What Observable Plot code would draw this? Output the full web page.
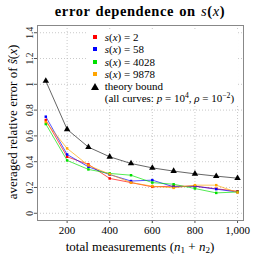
<!DOCTYPE html>
<html><head><meta charset="utf-8">
<script src="https://cdn.jsdelivr.net/npm/d3@7"></script>
<script src="https://cdn.jsdelivr.net/npm/@observablehq/plot@0.6"></script>
<style>
body{margin:0;background:#fff;}
#wrap{position:relative;width:258px;height:258px;font-family:"Liberation Serif",serif;color:#000;}
.abs{position:absolute;white-space:nowrap;}
#legend{position:absolute;left:86px;top:30px;background:#fff;font-size:11px;line-height:12.3px;padding:1px 4px 1px 2px;}
#legend .row{display:flex;align-items:center;height:12.3px;white-space:pre;}
#legend .sym{width:14px;display:inline-flex;justify-content:center;}
sub{font-size:70%;vertical-align:-2px;line-height:0;}
sup{font-size:70%;vertical-align:4px;line-height:0;}
</style></head>
<body><div id="wrap"></div>
<script>
const totals = [100, 200, 300, 400, 500, 600, 700, 800, 900, 1000];
const s2    = [0.723, 0.438, 0.379, 0.270, 0.238, 0.205, 0.210, 0.210, 0.190, 0.171];
const s58   = [0.749, 0.456, 0.360, 0.300, 0.250, 0.257, 0.205, 0.210, 0.187, 0.165];
const s4028 = [0.692, 0.410, 0.340, 0.309, 0.295, 0.238, 0.225, 0.192, 0.158, 0.165];
const s9878 = [0.708, 0.503, 0.371, 0.303, 0.238, 0.210, 0.197, 0.218, 0.218, 0.161];
const theory = [1.026, 0.651, 0.513, 0.438, 0.386, 0.352, 0.327, 0.306, 0.288, 0.272];
const seriesNames = ["2", "58", "4028", "9878"];
const seriesColors = ["#ff0000", "#0000ff", "#00e000", "#ffa500"];
const xTicks = [200, 400, 600, 800, 1000];
const yTicks = [0, 0.2, 0.4, 0.6, 0.8, 1, 1.2, 1.4];

const seriesVals = [s2, s58, s4028, s9878];
const rows = [];
seriesVals.forEach((vals, k) => vals.forEach((v, i) => rows.push({n: totals[i], v, s: seriesNames[k]})));
const th = totals.map((n, i) => ({n, v: theory[i]}));

const plot = Plot.plot({
  width: 258, height: 258,
  marginLeft: 37, marginRight: 15, marginTop: 25, marginBottom: 38,
  style: {fontFamily: "Liberation Serif, serif", background: "white", color: "black"},
  x: {domain: [61, 1028], label: null},
  y: {domain: [-0.056, 1.456], label: null},
  color: {domain: seriesNames, range: seriesColors},
  marks: [
    Plot.gridX(xTicks, {stroke: "#bbb", strokeOpacity: 1, strokeDasharray: "1,2", strokeWidth: 0.8}),
    Plot.gridY(yTicks, {stroke: "#bbb", strokeOpacity: 1, strokeDasharray: "1,2", strokeWidth: 0.8}),
    Plot.line(th, {x: "n", y: "v", stroke: "#555", strokeWidth: 0.9}),
    Plot.dot(th, {x: "n", y: "v", symbol: "triangle", r: 2.4, fill: "black", stroke: "none"}),
    Plot.line(rows, {x: "n", y: "v", z: "s", stroke: "s", strokeWidth: 0.9, strokeOpacity: 0.75}),
    Plot.dot(rows, {x: "n", y: "v", fill: "s", r: 1.4, stroke: "none", symbol: "square"}),
    Plot.axisX(xTicks, {tickSize: 3, tickPadding: 2.5, fontSize: 11, tickFormat: d => d, stroke: "#555", label: null}),
    Plot.axisY(yTicks, {tickSize: 3, tickFormat: () => "", stroke: "#555", label: null}),
    Plot.text(yTicks, {y: d => d, frameAnchor: "left", dx: -5, rotate: -90, lineAnchor: "bottom", textAnchor: "middle", fontSize: 9.5, text: d => String(d), fill: "#222"}),
    Plot.frame({stroke: "#888", strokeWidth: 1})
  ]
});
const wrap = document.getElementById("wrap");
wrap.appendChild(plot);

const html = `
<div class="abs" style="left:37px;width:206px;top:3px;text-align:center;font-size:14.5px;font-weight:bold;letter-spacing:0.6px;word-spacing:1px;">error dependence on <i style="font-weight:normal">s</i>(<i style="font-weight:normal">x</i>)</div>
<div class="abs" style="left:37px;width:206px;top:239px;text-align:center;font-size:13px;">total measurements (<i>n</i><sub>1</sub> + <i>n</i><sub>2</sub>)</div>
<div class="abs" style="left:13px;top:122px;transform:translate(-50%,-50%) rotate(-90deg);font-size:13px;">averaged relative error of <i>ŝ</i>(<i>x</i>)</div>
<div id="legend"></div>`;
wrap.insertAdjacentHTML("beforeend", html);
const leg = document.getElementById("legend");
seriesNames.forEach((nm, k) => {
  leg.insertAdjacentHTML("beforeend", `<div class="row"><span class="sym"><svg width="4" height="4"><rect width="4" height="4" fill="${seriesColors[k]}"/></svg></span><span> <i>s</i>(<i>x</i>) = ${nm}</span></div>`);
});
leg.insertAdjacentHTML("beforeend", `<div class="row"><span class="sym"><svg width="8" height="7"><polygon points="4,0 8,7 0,7" fill="black"/></svg></span><span> theory bound</span></div>`);
leg.insertAdjacentHTML("beforeend", `<div class="row"><span class="sym"></span><span> (all curves: <i>p</i> = 10<sup>4</sup>, <i>ρ</i> = 10<sup>−2</sup>)</span></div>`);
</script></body></html>
